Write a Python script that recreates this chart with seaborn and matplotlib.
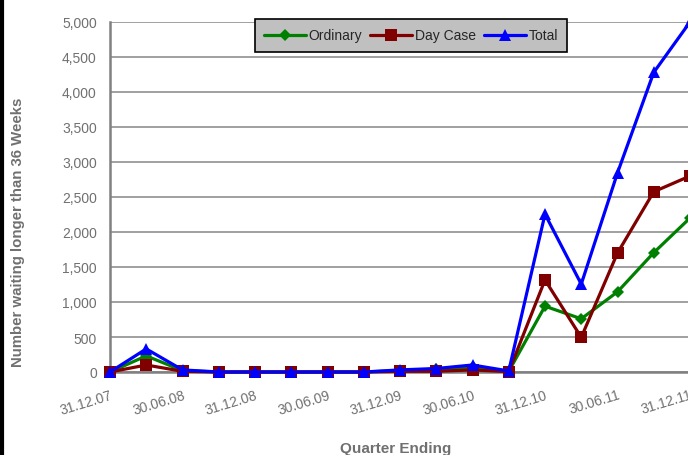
import matplotlib
matplotlib.use("Agg")
import matplotlib.pyplot as plt
import seaborn as sns
import pandas as pd

quarters = ["31.12.07", "31.03.08", "30.06.08", "30.09.08", "31.12.08", "31.03.09",
            "30.06.09", "30.09.09", "31.12.09", "31.03.10", "30.06.10", "30.09.10",
            "31.12.10", "31.03.11", "30.06.11", "30.09.11", "31.12.11"]
ordinary = [0, 230, 20, 0, 0, 0, 0, 0, 20, 40, 70, 10, 940, 760, 1145, 1705, 2200]
day_case = [0, 100, 10, 0, 0, 0, 0, 0, 10, 10, 30, 5, 1315, 495, 1700, 2575, 2800]
total = [0, 330, 30, 0, 0, 0, 0, 0, 30, 50, 100, 15, 2255, 1255, 2845, 4280, 5000]
series_names = ["Ordinary", "Day Case", "Total"]
y_ticks = [0, 500, 1000, 1500, 2000, 2500, 3000, 3500, 4000, 4500, 5000]

sns.set_theme(style="white")
plt.rcParams['font.family'] = ['Liberation Sans', 'DejaVu Sans']

df = pd.DataFrame({
    "idx": list(range(len(quarters))) * 3,
    "value": ordinary + day_case + total,
    "series": [series_names[0]] * len(quarters) + [series_names[1]] * len(quarters)
              + [series_names[2]] * len(quarters),
})

fig = plt.figure(figsize=(6.88, 4.56), dpi=100)
ax = fig.add_axes([110 / 688, 1 - 373 / 456, 580 / 688, 350 / 456])

palette = {"Ordinary": "#008000", "Day Case": "#800000", "Total": "#0000FF"}
markers = {"Ordinary": "D", "Day Case": "s", "Total": "^"}
sizes = {"Ordinary": 6.5, "Day Case": 8.5, "Total": 9}
for name in series_names:
    sub = df[df.series == name]
    sns.lineplot(data=sub, x="idx", y="value", ax=ax, color=palette[name],
                 marker=markers[name], markersize=sizes[name], markeredgewidth=0,
                 linewidth=2.3, label=name, clip_on=False, zorder=3)

ax.set_xlim(0, len(quarters) - 1)
ax.set_ylim(0, 5000)
ax.set_yticks(y_ticks)
ax.set_yticklabels([f"{v:,}" for v in y_ticks], color="#707070", fontsize=10)
ax.set_xticks(range(len(quarters)))
ax.set_xticklabels([q if i % 2 == 0 else "" for i, q in enumerate(quarters)],
                   rotation=17, ha="right", rotation_mode="anchor",
                   color="#707070", fontsize=10)
ax.tick_params(axis="x", direction="out", length=5, color="#808080", width=1.2, pad=6)
ax.tick_params(axis="y", direction="out", length=4.5, color="#808080", width=1.2, pad=5)
ax.yaxis.grid(True, color="#a0a0a0", linewidth=1.4)
ax.set_axisbelow(True)
for s in ["top", "right"]:
    ax.spines[s].set_visible(False)
for s in ["left", "bottom"]:
    ax.spines[s].set_color("#808080")
    ax.spines[s].set_linewidth(1.8)

ax.set_xlabel("Quarter Ending", fontsize=11, fontweight="bold", color="#707070")
ax.xaxis.set_label_coords((396 - 110) / 580, -(442 - 373) / 350)
ax.set_ylabel("Number waiting longer than 36 Weeks", fontsize=10.8,
              fontweight="bold", color="#707070")
ax.yaxis.set_label_coords(-(110 - 25) / 580, (373 - 232) / 350)

leg = ax.legend(loc="center", bbox_to_anchor=((411 - 110) / 580, (373 - 36.5) / 350),
                ncol=3, frameon=True, fancybox=False, fontsize=10,
                handlelength=3.0, handletextpad=0.2, columnspacing=0.6,
                borderpad=0.65, borderaxespad=0)
leg.get_frame().set_facecolor("#c0c0c0")
leg.get_frame().set_edgecolor("#000000")
leg.get_frame().set_linewidth(1.2)
leg.get_frame().set_alpha(1)
leg.set_zorder(5)

fig.add_artist(plt.Line2D([2 / 688, 2 / 688], [0, 1], color="black", linewidth=3,
                          transform=fig.transFigure))

fig.savefig("out.png", dpi=100)
